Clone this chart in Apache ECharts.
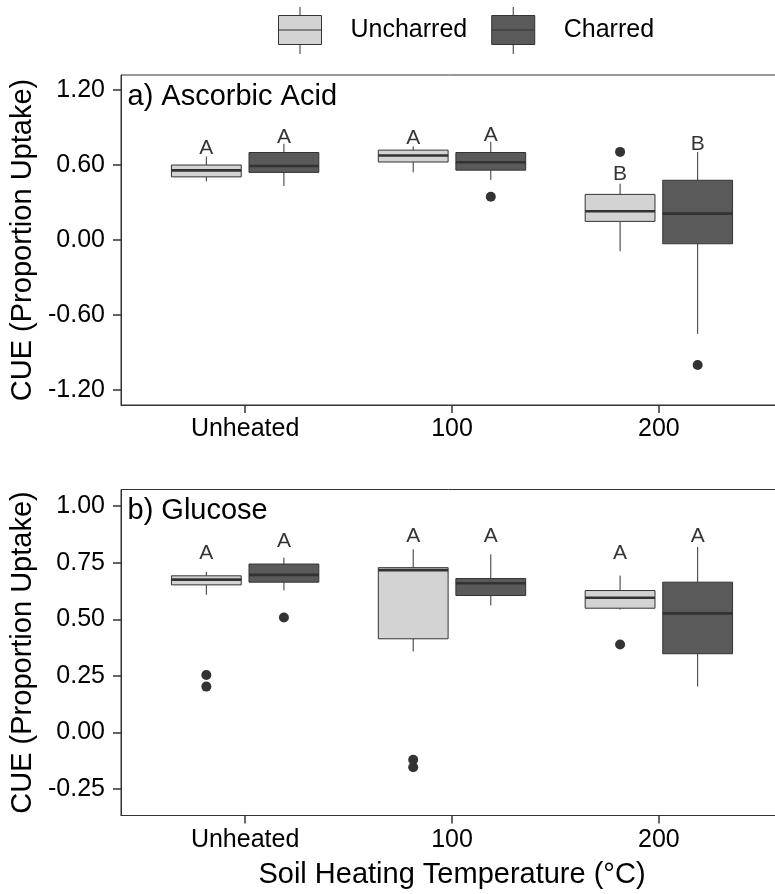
<!DOCTYPE html>
<html>
<head>
<meta charset="utf-8">
<script src="https://cdn.jsdelivr.net/npm/echarts@6/dist/echarts.min.js"></script>
<style>
html,body{margin:0;padding:0;background:#ffffff;}
#chart{width:775px;height:894px;}
</style>
</head>
<body>
<div id="chart"></div>
<script>
// ---------------- data ----------------
const categories = ['Unheated', '100', '200'];
const groupNames = ['Uncharred', 'Charred'];
const xTickValues = [1, 2, 3];

// Five-number summaries: [lower whisker, Q1, median, Q3, upper whisker]
const ascorbicUncharred = [
  [0.468, 0.505, 0.557, 0.600, 0.668],
  [0.541, 0.624, 0.676, 0.719, 0.749],
  [-0.089, 0.149, 0.230, 0.365, 0.451]
];
const ascorbicCharred = [
  [0.432, 0.541, 0.592, 0.700, 0.770],
  [0.481, 0.559, 0.622, 0.700, 0.786],
  [-0.751, -0.030, 0.211, 0.478, 0.705]
];
const ascorbicOutliersUncharred = [[], [], [0.705]];
const ascorbicOutliersCharred = [[], [0.346], [-1.0]];
const ascorbicLettersUncharred = ['A', 'A', 'B'];
const ascorbicLettersCharred = ['A', 'A', 'B'];
const ascorbicLetterYUncharred = [0.735, 0.811, 0.527];
const ascorbicLetterYCharred = [0.824, 0.838, 0.770];

const glucoseUncharred = [
  [0.608, 0.652, 0.675, 0.692, 0.709],
  [0.358, 0.414, 0.717, 0.728, 0.809],
  [0.543, 0.549, 0.595, 0.627, 0.693]
];
const glucoseCharred = [
  [0.628, 0.664, 0.696, 0.744, 0.772],
  [0.561, 0.605, 0.659, 0.680, 0.787],
  [0.203, 0.348, 0.526, 0.664, 0.819]
];
const glucoseOutliersUncharred = [[0.254, 0.203], [-0.120, -0.153], [0.389]];
const glucoseOutliersCharred = [[0.508], [], []];
const glucoseLettersUncharred = ['A', 'A', 'A'];
const glucoseLettersCharred = ['A', 'A', 'A'];
const glucoseLetterYUncharred = [0.794, 0.867, 0.794];
const glucoseLetterYCharred = [0.843, 0.867, 0.867];

const yTicksA = [-1.2, -0.6, 0, 0.6, 1.2];
const yTicksB = [-0.25, 0, 0.25, 0.5, 0.75, 1.0];

// ---------------- styling ----------------
const FONT = '"Liberation Sans", Arial, sans-serif';
const LINE = '#333333';
const FILL_UNCHARRED = '#d3d3d3';
const FILL_CHARRED = '#5a5a5a';
const DODGE = 0.1875;
const BOX_W = 0.3375;

function makeBoxRender(dodge) {
  return function (params, api) {
    const x = api.value(0) + dodge;
    const low = api.coord([x, api.value(1)]);
    const q1 = api.coord([x, api.value(2)]);
    const med = api.coord([x, api.value(3)]);
    const q3 = api.coord([x, api.value(4)]);
    const high = api.coord([x, api.value(5)]);
    const half = api.size([BOX_W, 0])[0] / 2;
    const cx = med[0];
    return {
      type: 'group',
      children: [
        { type: 'line', shape: { x1: cx, y1: high[1], x2: cx, y2: q3[1] }, style: { stroke: LINE, lineWidth: 1 } },
        { type: 'line', shape: { x1: cx, y1: q1[1], x2: cx, y2: low[1] }, style: { stroke: LINE, lineWidth: 1 } },
        { type: 'rect', shape: { x: cx - half, y: q3[1], width: 2 * half, height: q1[1] - q3[1] },
          style: { fill: api.visual('color'), stroke: LINE, lineWidth: 1 } },
        { type: 'line', shape: { x1: cx - half, y1: med[1], x2: cx + half, y2: med[1] }, style: { stroke: LINE, lineWidth: 2.6 } }
      ]
    };
  };
}

function boxSeries(name, stats, dodge, fill, axisIdx) {
  return {
    type: 'custom', name: name, xAxisIndex: axisIdx, yAxisIndex: axisIdx,
    itemStyle: { color: fill, borderColor: LINE, borderWidth: 1 },
    encode: { x: 0, y: [1, 2, 3, 4, 5] },
    renderItem: makeBoxRender(dodge),
    data: stats.map((s, i) => [i + 1].concat(s)),
    z: 2
  };
}

function outlierSeries(outliers, dodge, axisIdx) {
  const pts = [];
  outliers.forEach((vals, i) => vals.forEach(v => pts.push([i + 1 + dodge, v])));
  return {
    type: 'scatter', name: 'outliers', xAxisIndex: axisIdx, yAxisIndex: axisIdx,
    symbol: 'circle', symbolSize: 10, itemStyle: { color: '#333333', opacity: 1 },
    data: pts, z: 3, silent: true
  };
}

function letterSeries(letters, ys, dodge, axisIdx) {
  return {
    type: 'scatter', name: 'letters', xAxisIndex: axisIdx, yAxisIndex: axisIdx,
    symbolSize: 1, itemStyle: { color: 'rgba(0,0,0,0)' },
    label: { show: true, position: 'inside', formatter: p => p.value[2],
      fontSize: 21, color: '#000', fontFamily: FONT },
    data: letters.map((l, i) => [i + 1 + dodge, ys[i], l]), z: 4, silent: true
  };
}

function makeXAxis(gridIndex, withName) {
  return {
    type: 'value', gridIndex: gridIndex, min: 0.4, max: 3.6,
    axisLine: { show: true, onZero: false, lineStyle: { color: LINE, width: 1 } },
    axisTick: { show: true, length: 8, customValues: xTickValues, lineStyle: { color: LINE, width: 1.5 } },
    axisLabel: { show: true, customValues: xTickValues, formatter: v => categories[Math.round(v) - 1],
      margin: 12, fontSize: 25, color: '#000', fontFamily: FONT },
    splitLine: { show: false },
    name: withName ? 'Soil Heating Temperature (°C)' : '',
    nameLocation: 'middle', nameGap: 45,
    nameTextStyle: { fontSize: 29, color: '#000', fontFamily: FONT }
  };
}

function makeYAxis(gridIndex, min, max, ticks) {
  return {
    type: 'value', gridIndex: gridIndex, min: min, max: max,
    axisLine: { show: true, onZero: false, lineStyle: { color: LINE, width: 1 } },
    axisTick: { show: true, length: 8, customValues: ticks, lineStyle: { color: LINE, width: 1.5 } },
    axisLabel: { show: true, customValues: ticks, formatter: v => v.toFixed(2),
      margin: 16, fontSize: 25, color: '#000', fontFamily: FONT },
    splitLine: { show: false },
    name: 'CUE (Proportion Uptake)', nameLocation: 'middle', nameRotate: 90, nameGap: 75,
    nameTextStyle: { fontSize: 29, color: '#000', fontFamily: FONT }
  };
}

const LEGEND_ICON = 'path://M0,8.5H43V37.5H0Z M0,23H43 M21.5,0V8.5 M21.5,37.5V47';

const option = {
  animation: false,
  backgroundColor: '#ffffff',
  legend: {
    data: [{ name: groupNames[0], icon: LEGEND_ICON }, { name: groupNames[1], icon: LEGEND_ICON }],
    left: 278, top: 6.5, padding: 0, itemWidth: 43, itemHeight: 47, itemGap: 24,
    itemStyle: { borderColor: LINE, borderWidth: 1 },
    textStyle: { fontSize: 25, color: '#000', fontFamily: FONT, padding: [0, 0, 0, 24] },
    selectedMode: false
  },
  grid: [
    { left: 121, top: 75, width: 662, height: 330, outerBoundsMode: 'none', containLabel: false,
      show: true, borderColor: LINE, borderWidth: 1, backgroundColor: 'transparent' },
    { left: 121, top: 489.5, width: 662, height: 326, outerBoundsMode: 'none', containLabel: false,
      show: true, borderColor: LINE, borderWidth: 1, backgroundColor: 'transparent' }
  ],
  xAxis: [makeXAxis(0, false), makeXAxis(1, true)],
  yAxis: [makeYAxis(0, -1.32, 1.32, yTicksA), makeYAxis(1, -0.366, 1.073, yTicksB)],
  graphic: [
    { type: 'text', x: 127.5, y: 96.5, style: { text: 'a) Ascorbic Acid', fontSize: 29, fontFamily: FONT, fill: '#000', verticalAlign: 'middle' } },
    { type: 'text', x: 127.5, y: 511, style: { text: 'b) Glucose', fontSize: 29, fontFamily: FONT, fill: '#000', verticalAlign: 'middle' } }
  ],
  series: [
    boxSeries(groupNames[0], ascorbicUncharred, -DODGE, FILL_UNCHARRED, 0),
    boxSeries(groupNames[1], ascorbicCharred, DODGE, FILL_CHARRED, 0),
    outlierSeries(ascorbicOutliersUncharred, -DODGE, 0),
    outlierSeries(ascorbicOutliersCharred, DODGE, 0),
    letterSeries(ascorbicLettersUncharred, ascorbicLetterYUncharred, -DODGE, 0),
    letterSeries(ascorbicLettersCharred, ascorbicLetterYCharred, DODGE, 0),
    boxSeries(groupNames[0], glucoseUncharred, -DODGE, FILL_UNCHARRED, 1),
    boxSeries(groupNames[1], glucoseCharred, DODGE, FILL_CHARRED, 1),
    outlierSeries(glucoseOutliersUncharred, -DODGE, 1),
    outlierSeries(glucoseOutliersCharred, DODGE, 1),
    letterSeries(glucoseLettersUncharred, glucoseLetterYUncharred, -DODGE, 1),
    letterSeries(glucoseLettersCharred, glucoseLetterYCharred, DODGE, 1)
  ]
};

const chart = echarts.init(document.getElementById('chart'), null, { renderer: 'canvas' });
chart.setOption(option);
</script>
</body>
</html>
